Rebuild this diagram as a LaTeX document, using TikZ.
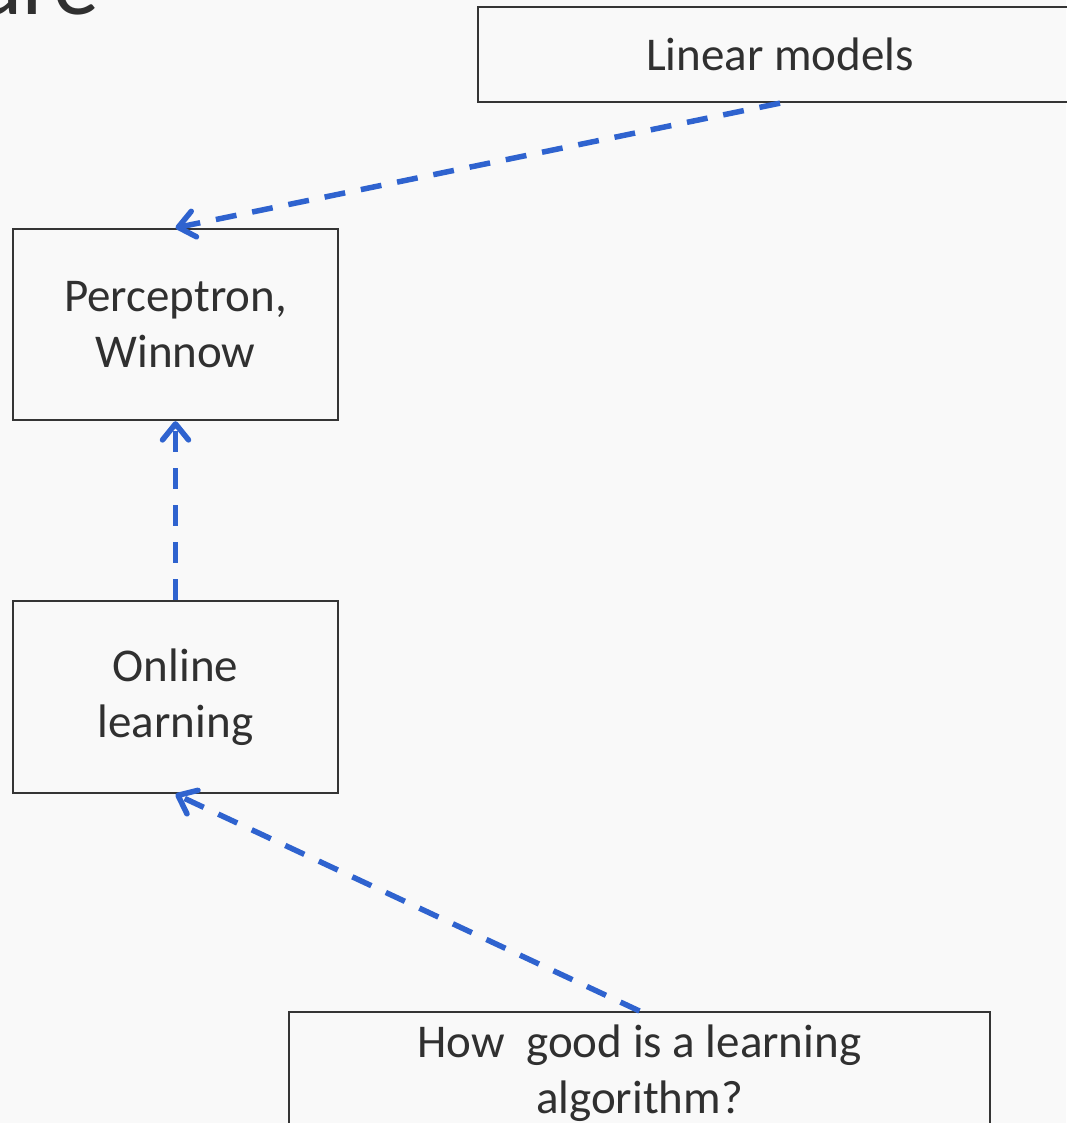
\documentclass[tikz,border=0pt]{standalone}
\usepackage{fontspec}
\setmainfont{Carlito}
\usetikzlibrary{arrows.meta}
\definecolor{bg}{HTML}{F9F9F9}
\definecolor{txt}{HTML}{303030}
\definecolor{edge}{HTML}{353535}
\definecolor{arrowblue}{HTML}{2F63CF}
\tikzset{
  box/.style={draw=edge, line width=2.3pt, text=txt, align=center,
    font=\fontsize{47}{56}\selectfont, inner sep=0pt},
  link/.style={draw=arrowblue, line width=5.5pt, dash pattern=on 21pt off 16pt,
    -{Straight Barb[length=16pt,width=26pt,line width=5.5pt,round]}}
}
\begin{document}
\begin{tikzpicture}[x=1pt,y=-1pt]
\useasboundingbox (0,0) rectangle (1066,1123);
\fill[bg] (0,0) rectangle (1066,1123);
\node[anchor=base east, text=txt, font=\fontsize{92}{100}\selectfont] (title) at (103,15) {ure};
\node[box, minimum width=604pt, minimum height=95pt] (linear) at (780,54.5) {Linear models};
\node[box, minimum width=325pt, minimum height=191pt] (perc) at (175.5,324.5) {Perceptron,\\Winnow};
\node[box, minimum width=325pt, minimum height=192pt] (online) at (175.5,697) {Online\\learning};
\node[box, minimum width=701pt, minimum height=123pt, anchor=north] (how) at (639.5,1011) {How\ \ good is a learning\\algorithm?};
\draw[link] (linear.south) -- (perc.north);
\draw[link] (online.north) -- (perc.south);
\draw[link] (how.north) -- (online.south);
\end{tikzpicture}
\end{document}
